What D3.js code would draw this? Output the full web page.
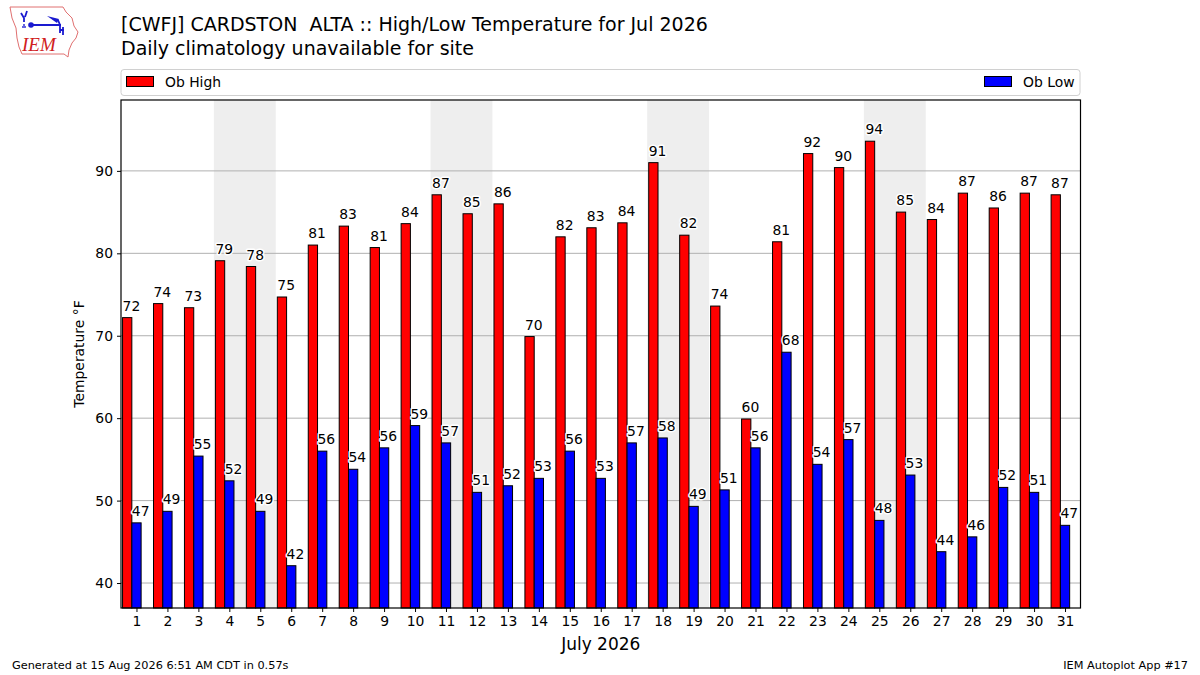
<!DOCTYPE html>
<html>
<head>
<meta charset="utf-8">
<script src="https://cdn.jsdelivr.net/npm/d3@7"></script>
<style>
  body { margin: 0; background: #fff; }
  svg { font-family: "DejaVu Sans", sans-serif; }
</style>
</head>
<body>
<div id="chart"></div>
<script>
// days of July 2026 and observed temperatures (F)
var days = d3.range(1, 32)
var obHigh = [72.2, 73.9, 73.4, 79.1, 78.4, 74.7, 81.0, 83.3, 80.7, 83.6,
    87.1, 84.8, 86.0, 69.9, 82.0, 83.1, 83.7, 91.0, 82.2, 73.6,
    59.9, 81.4, 92.1, 90.4, 93.6, 85.0, 84.1, 87.3, 85.5, 87.3, 87.1]
var obLow = [47.3, 48.7, 55.4, 52.4, 48.7, 42.1, 56.0, 53.8, 56.4, 59.1,
    57.0, 51.0, 51.8, 52.7, 56.0, 52.7, 57.0, 57.6, 49.3, 51.3,
    56.4, 68.0, 54.4, 57.4, 47.6, 53.1, 43.8, 45.6, 51.6, 51.0, 47.0]
var saturdays = [4, 11, 18, 25]
var yTicks = [40, 50, 60, 70, 80, 90]

var width = 1200, height = 675
var plotLeft = 121, plotRight = 1080.5, plotTop = 100, plotBottom = 608

var svg = d3.select('#chart').append('svg')
    .attr('width', width)
    .attr('height', height)

var x = d3.scaleLinear().domain([0.5, 31.5]).range([plotLeft, plotRight])
var y = d3.scaleLinear().domain([36.97, 98.6]).range([plotBottom, plotTop])
var barW = x(0.3) - x(0)

// weekend shading
svg.append('g').selectAll('rect')
    .data(saturdays)
    .enter()
    .append('rect')
    .attr('x', d => x(d - 0.5))
    .attr('y', plotTop)
    .attr('width', x(2) - x(0))
    .attr('height', plotBottom - plotTop)
    .style('fill', '#eeeeee')

// grid lines
svg.append('g').selectAll('line')
    .data(yTicks)
    .enter()
    .append('line')
    .attr('x1', plotLeft).attr('x2', plotRight)
    .attr('y1', d => y(d)).attr('y2', d => y(d))
    .attr('stroke', '#b0b0b0')
    .attr('stroke-width', 1)

// bars
var series = [
    { name: 'high', values: obHigh, color: '#ff0000', offset: -0.3 },
    { name: 'low', values: obLow, color: '#0000ff', offset: 0 }
]

series.forEach(function (s) {
    svg.append('g').selectAll('rect')
        .data(s.values)
        .enter()
        .append('rect')
        .attr('x', (d, i) => x(days[i] + s.offset) - barW / 2)
        .attr('y', d => y(d))
        .attr('width', barW)
        .attr('height', d => plotBottom - y(d))
        .style('fill', s.color)
        .attr('stroke', 'black')
        .attr('stroke-width', 1)
})

// value labels (left aligned on bar edge, white halo)
series.forEach(function (s) {
    svg.append('g').selectAll('text')
        .data(s.values)
        .enter()
        .append('text')
        .attr('x', (d, i) => x(days[i] + s.offset) - barW / 2)
        .attr('y', d => y(d) - 7)
        .text(d => d3.format('.0f')(d))
        .style('font-size', '13.9px')
        .style('fill', 'black')
        .attr('stroke', 'white')
        .attr('stroke-width', 3)
        .attr('stroke-linejoin', 'round')
        .style('paint-order', 'stroke')
})

// frame
svg.append('rect')
    .attr('x', plotLeft).attr('y', plotTop)
    .attr('width', plotRight - plotLeft).attr('height', plotBottom - plotTop)
    .attr('fill', 'none')
    .attr('stroke', 'black')
    .attr('stroke-width', 1.2)

// axes
var xAxis = svg.append('g')
    .attr('transform', `translate(0,${plotBottom})`)
    .call(d3.axisBottom(x).tickValues(days).tickSize(4).tickPadding(4).tickFormat(d3.format('d')))
var yAxis = svg.append('g')
    .attr('transform', `translate(${plotLeft},0)`)
    .call(d3.axisLeft(y).tickValues(yTicks).tickSize(4).tickPadding(4))

;[xAxis, yAxis].forEach(function (a) {
    a.select('.domain').remove()
    a.selectAll('text').style('font-size', '13.9px').style('font-family', '"DejaVu Sans", sans-serif').style('fill', 'black')
    a.selectAll('line').attr('stroke', 'black')
})

svg.append('text')
    .attr('x', (plotLeft + plotRight) / 2)
    .attr('y', 650)
    .attr('text-anchor', 'middle')
    .style('font-size', '17px')
    .text('July 2026')

svg.append('text')
    .attr('transform', `translate(84,${(plotTop + plotBottom) / 2}) rotate(-90)`)
    .attr('text-anchor', 'middle')
    .style('font-size', '13.9px')
    .text('Temperature °F')

// legend
var legend = svg.append('g')
legend.append('rect')
    .attr('x', plotLeft).attr('y', 69.5)
    .attr('width', plotRight - plotLeft - 0.5).attr('height', 26)
    .attr('rx', 3)
    .attr('fill', 'white')
    .attr('stroke', '#d0d0d0')
legend.append('rect')
    .attr('x', 126.5).attr('y', 76.5).attr('width', 27).attr('height', 10)
    .style('fill', '#ff0000').attr('stroke', 'black')
legend.append('text')
    .attr('x', 165).attr('y', 86.5)
    .style('font-size', '13.9px')
    .text('Ob High')
legend.append('rect')
    .attr('x', 984.5).attr('y', 76.5).attr('width', 27).attr('height', 10)
    .style('fill', '#0000ff').attr('stroke', 'black')
legend.append('text')
    .attr('x', 1074.5).attr('y', 86.5)
    .attr('text-anchor', 'end')
    .style('font-size', '13.9px')
    .text('Ob Low')

// titles
svg.append('text')
    .attr('x', 121).attr('y', 31)
    .style('font-size', '19px')
    .style('white-space', 'pre')
    .text('[CWFJ] CARDSTON  ALTA :: High/Low Temperature for Jul 2026')
svg.append('text')
    .attr('x', 121).attr('y', 55)
    .style('font-size', '19px')
    .text('Daily climatology unavailable for site')

// footer
svg.append('text')
    .attr('x', 12).attr('y', 669)
    .style('font-size', '11.3px')
    .text('Generated at 15 Aug 2026 6:51 AM CDT in 0.57s')
svg.append('text')
    .attr('x', 1188).attr('y', 669)
    .attr('text-anchor', 'end')
    .style('font-size', '11.3px')
    .text('IEM Autoplot App #17')

// IEM logo (rough sketch)
var logo = svg.append('g')
logo.append('path')
    .attr('d', 'M10,7 L63,7 L66,12 L72,18 L74,26 L78,32 L76,38 L72,43 L69,50 L68,57 L64,54 L22,54 L19,47 L17,38 L16,28 L12,18 Z')
    .attr('fill', 'white')
    .attr('stroke', '#e07070')
    .attr('stroke-width', 1)
logo.append('path')
    .attr('d', 'M21,13 L24,18 L24,22 M27,11 L25,17 M30,25 L61,25 M58,20 L60,25 L60,33 M60,30 L64,30 M63,27 L63,35')
    .attr('fill', 'none')
    .attr('stroke', '#1a1ad0')
    .attr('stroke-width', 1.8)
logo.append('circle')
    .attr('cx', 31).attr('cy', 25).attr('r', 2.8)
    .attr('fill', '#1a1ad0')
logo.append('path')
    .attr('d', 'M47,16 L59,19 L57,23 Z')
    .attr('fill', '#1a1ad0')
logo.append('g').selectAll('circle')
    .data([[23, 27], [25, 27], [24, 25]])
    .enter()
    .append('circle')
    .attr('cx', d => d[0]).attr('cy', d => d[1]).attr('r', 0.9)
    .attr('fill', '#1a1ad0')
logo.append('text')
    .attr('x', 22).attr('y', 51)
    .style('font-family', '"Liberation Serif", serif')
    .style('font-style', 'italic')
    .style('font-size', '19px')
    .style('fill', '#d02020')
    .text('IEM')
</script>
</body>
</html>
